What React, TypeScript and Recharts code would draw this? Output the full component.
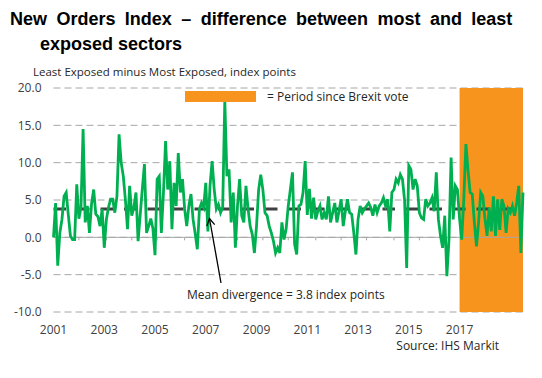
import React from 'react';
import { LineChart, Line, XAxis, YAxis, CartesianGrid, ReferenceArea, ReferenceLine } from 'recharts';

// Monthly difference, Least Exposed minus Most Exposed (index points), from Jan 2001
const values: number[] = [
  0.0, 4.6, -3.8, 0.6, 2.4, 5.5, 6.0, 3.0, 0.2, -0.3, -0.3, 7.1, 2.5, 4.0, 14.5, 2.0, 4.2, 0.6, 4.5, 6.4,
  3.1, 2.8, 1.5, 3.8, -1.4, 2.4, 4.0, 5.1, 5.1, 3.3, 5.5, 13.8, 10.0, 8.2, 5.0, 1.1, 6.9, 2.9, 4.0, 6.0,
  -0.5, 3.0, 6.5, 9.8, 0.6, 1.5, 2.5, 1.2, -2.4, 7.8, 8.2, 0.6, 6.0, 12.9, 6.4, 10.2, 1.1, 7.3, 4.2, 11.3,
  6.0, 7.8, 3.8, 1.5, 4.2, 5.8, 2.4, 0.5, -1.6, 3.8, 4.6, 4.0, 7.3, 0.8, 6.9, 10.2, 6.4, 3.8, 4.4, 3.3,
  4.0, 18.3, 8.2, 9.1, 2.0, 6.0, -1.4, 4.2, 7.8, 2.9, 2.0, 6.9, 3.8, 1.5, 0.4, -2.1, 1.5, 6.4, 8.4, 6.4,
  3.3, 2.9, 1.5, 0.6, -0.5, -2.1, -1.4, -2.1, 2.0, -0.3, 1.1, 4.2, 6.4, 8.7, -0.9, -2.3, 4.2, 4.4, 6.0, 10.2,
  3.0, 6.5, 2.5, 5.3, 2.4, 3.5, 4.2, 2.4, 3.3, 2.4, 5.5, 2.0, 3.3, 4.6, 2.0, 3.5, 5.1, 1.5, 3.5, 5.1,
  3.3, 3.1, 0.6, -2.3, 2.4, 4.2, 3.3, 3.8, 4.2, 4.6, 4.0, 2.9, 4.4, 3.3, 4.2, 4.6, 5.3, 4.2, 5.1, 0.8,
  6.0, 6.4, 7.8, 7.3, 8.4, 7.8, 5.0, -4.1, 9.6, 9.1, 6.4, 7.8, 6.9, 3.3, 2.6, 2.4, 5.1, 4.2, 4.6, 5.3,
  3.5, 8.7, 2.4, 0.2, -1.4, 2.9, -5.2, -0.3, 10.7, 2.4, 6.9, 6.4, 2.5, -0.3, 5.0, 12.5, 9.0, 6.0, 5.8, 2.0,
  -1.2, 2.0, 6.0, 5.5, 2.5, 0.2, 4.0, 0.8, 5.5, 0.2, 5.1, 1.0, 5.1, 4.2, 0.6, 3.8, 3.3, 4.2, 2.9, 4.6,
  6.9, -2.1, 6.0,
];

const meanDivergence = 3.8;
const brexitStart = 192;
const yearTickIndex = [0, 24, 48, 72, 96, 120, 144, 168, 192];
const yearLabels = ['2001', '2003', '2005', '2007', '2009', '2011', '2013', '2015', '2017'];
const yTicks = [-10, -5, 0, 5, 10, 15, 20];
const minorTicks = [12, 25, 37, 49, 62, 74, 87, 99, 111, 124, 136, 148, 161, 173, 185];

const data = values.map((v, i) => ({ m: i, v }));
const lastIndex = values.length - 1;

const GREEN = '#00B050';
const ORANGE = '#F7941E';
const GRID = '#A6A6A6';
const TEXT = '#404040';
const FONT = '"Open Sans", sans-serif';

export default function App() {
  const tickStyle = { fill: TEXT, fontSize: 12, fontFamily: FONT };
  return (
    <div style={{ position: 'absolute', left: 0, top: 0, width: 542, height: 378, background: '#fff' }}>
      <LineChart width={542} height={378} data={data} margin={{ top: 88, right: 19, bottom: 36, left: 0 }}>
        <CartesianGrid horizontal vertical={false} stroke={GRID} strokeDasharray="7 4" />
        <XAxis
          type="number"
          dataKey="m"
          domain={[0, lastIndex]}
          ticks={yearTickIndex}
          interval={0}
          tickFormatter={(t: number) => yearLabels[yearTickIndex.indexOf(t)] ?? ''}
          axisLine={false}
          tickLine={false}
          tickSize={0}
          tickMargin={13}
          height={30}
          tick={tickStyle}
        />
        <YAxis
          type="number"
          domain={[-10, 20]}
          ticks={yTicks}
          interval={0}
          tickFormatter={(v: number) => v.toFixed(1)}
          width={53.5}
          axisLine={false}
          tickLine={false}
          tickSize={0}
          tickMargin={12}
          tick={tickStyle}
        />
        <ReferenceArea x1={brexitStart} x2={lastIndex} y1={-10} y2={20} fill={ORANGE} fillOpacity={1} stroke="none" />
        <ReferenceLine y={0} stroke={GRID} strokeWidth={1} />
        {minorTicks.map((t) => (
          <ReferenceLine key={t} segment={[{ x: t, y: 0 }, { x: t, y: -0.4 }]} stroke={GRID} strokeWidth={1} />
        ))}
        <ReferenceLine y={meanDivergence} stroke={TEXT} strokeWidth={3} strokeDasharray="12.5 11" />
        <Line type="linear" dataKey="v" stroke={GREEN} strokeWidth={2.8} dot={false} isAnimationActive={false} />
      </LineChart>
      <svg width={542} height={378} style={{ position: 'absolute', left: 0, top: 0, pointerEvents: 'none' }}>
        <defs>
          <marker id="arrowHead" markerWidth="10" markerHeight="10" refX="8" refY="5" orient="auto" markerUnits="userSpaceOnUse">
            <polyline points="1,1 8,5 1,9" fill="none" stroke="#000" strokeWidth={1.3} />
          </marker>
        </defs>
        <text x={10} y={25} fontFamily='"Liberation Sans", Arial, sans-serif' fontWeight="bold" fontSize={18} fill="#000" style={{ wordSpacing: '4.4px' }}>
          New Orders Index – difference between most and least
        </text>
        <text x={40} y={50} fontFamily='"Liberation Sans", Arial, sans-serif' fontWeight="bold" fontSize={18} fill="#000">
          exposed sectors
        </text>
        <text x={33} y={76} fontFamily={FONT} fontSize={11.5} fill="#262626">
          Least Exposed minus Most Exposed, index points
        </text>
        <rect x={185} y={91} width={71} height={11} fill={ORANGE} />
        <text x={267} y={101} fontFamily={FONT} fontSize={12} fill="#262626">
          = Period since Brexit vote
        </text>
        <line x1={221} y1={283} x2={209.5} y2={218.5} stroke="#000" strokeWidth={1.3} markerEnd="url(#arrowHead)" />
        <text x={187} y={299} fontFamily={FONT} fontSize={12} fill="#262626">
          Mean divergence = 3.8 index points
        </text>
        <text x={499} y={350} textAnchor="end" fontFamily={FONT} fontSize={12} fill="#262626">
          Source: IHS Markit
        </text>
      </svg>
    </div>
  );
}
